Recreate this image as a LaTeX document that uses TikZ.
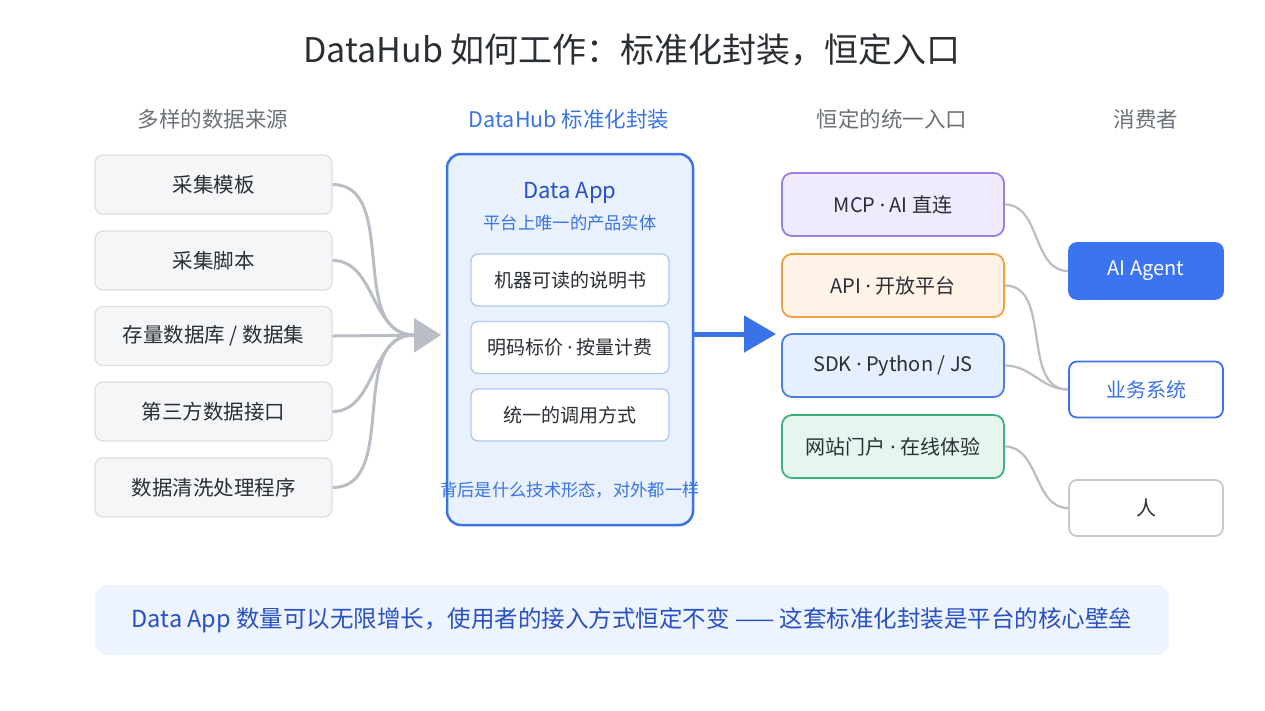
\documentclass[tikz,border=0pt]{standalone}
\usepackage{fontspec}
\setmainfont{Noto Sans CJK SC}
\newfontfamily\latinfont{Noto Sans}
\newcommand\mdot{{\latinfont ·}}
\usetikzlibrary{arrows.meta}

\definecolor{ink}{HTML}{2A2E35}
\definecolor{headgray}{HTML}{6B7079}
\definecolor{hubblue}{HTML}{3A73E6}
\definecolor{deepblue}{HTML}{2851C6}
\definecolor{srcfill}{HTML}{F5F6F8}
\definecolor{srcline}{HTML}{DCDFE4}
\definecolor{wire}{HTML}{B9BDC5}
\definecolor{appfill}{HTML}{E9F1FE}
\definecolor{partline}{HTML}{AFC8F2}
\definecolor{mcpfill}{HTML}{EFEAFD}
\definecolor{mcpline}{HTML}{9B7EE0}
\definecolor{apifill}{HTML}{FEF3E6}
\definecolor{apiline}{HTML}{F0A040}
\definecolor{sdkfill}{HTML}{E6EFFD}
\definecolor{sdkline}{HTML}{4A7FE0}
\definecolor{webfill}{HTML}{E5F6EE}
\definecolor{webline}{HTML}{3DB37A}
\definecolor{agentblue}{HTML}{3B73F0}
\definecolor{humanline}{HTML}{C6C9CF}
\definecolor{bannerfill}{HTML}{EEF4FE}

\begin{document}
\begin{tikzpicture}[x=1pt, y=-1pt,
    src/.style={draw=srcline, fill=srcfill, line width=1.3pt, rounded corners=8pt,
        minimum width=237pt, minimum height=59pt, inner sep=0pt,
        text=ink, font=\fontsize{20.5}{24}\selectfont},
    part/.style={draw=partline, fill=white, line width=1.3pt, rounded corners=7pt,
        minimum width=198pt, minimum height=52pt, inner sep=0pt,
        text=ink, font=\fontsize{19}{22}\selectfont},
    gate/.style={line width=1.8pt, rounded corners=10pt,
        minimum width=222pt, minimum height=63pt, inner sep=0pt,
        text=ink, font=\fontsize{20}{24}\selectfont},
    user/.style={line width=1.8pt, rounded corners=8pt,
        minimum width=154pt, minimum height=56pt, inner sep=0pt,
        font=\fontsize{20}{24}\selectfont},
    head/.style={text=headgray, font=\fontsize{21.5}{26}\selectfont},
    wirein/.style={draw=wire, line width=3pt},
    wireout/.style={draw=wire, line width=2.2pt},
]
    \useasboundingbox (0,0) rectangle (1265,710);

    % title and column heads
    \node[text=ink, font=\fontsize{34}{40}\selectfont] (title) at (632,50)
        {DataHub 如何工作：标准化封装，恒定入口};
    \node[head] (h1) at (213,119) {多样的数据来源};
    \node[head, text=hubblue] (h2) at (569,119) {DataHub 标准化封装};
    \node[head] (h3) at (892,119) {恒定的统一入口};
    \node[head] (h4) at (1146,119) {消费者};

    % sources
    \node[src] (s1) at (213.5,184.5) {采集模板};
    \node[src] (s2) at (213.5,260.5) {采集脚本};
    \node[src] (s3) at (213.5,336) {存量数据库 / 数据集};
    \node[src] (s4) at (213.5,411.5) {第三方数据接口};
    \node[src] (s5) at (213.5,487.5) {数据清洗处理程序};

    \coordinate (merge) at (414,335);
    \coordinate (tip) at (441,335);
    \draw[wirein] (s1.east) to[out=0, in=180] (merge);
    \draw[wirein] (s2.east) to[out=0, in=180] (merge);
    \draw[wirein] (s4.east) to[out=0, in=180] (merge);
    \draw[wirein] (s5.east) to[out=0, in=180] (merge);
    \draw[wirein, -{Triangle[length=27pt, width=34pt]}] (s3.east) -- (tip);

    % the data app
    \node[draw=hubblue, fill=appfill, line width=2.5pt, rounded corners=14pt,
        minimum width=246pt, minimum height=371pt] (app) at (570,339.5) {};
    \node[text=deepblue, font=\fontsize{22}{26}\selectfont] (appname) at (570,193) {Data App};
    \node[text=hubblue, font=\fontsize{17.3}{20}\selectfont] (appsub) at (570,223) {平台上唯一的产品实体};
    \node[part] (p1) at (570,280) {机器可读的说明书};
    \node[part] (p2) at (570,347.5) {明码标价 \mdot{} 按量计费};
    \node[part] (p3) at (570,415) {统一的调用方式};
    \node[text=hubblue, font=\fontsize{17.3}{20}\selectfont] (appnote) at (570,490)
        {背后是什么技术形态，对外都一样};

    \coordinate (gatein) at (776,334);
    \draw[hubblue, line width=5pt, -{Triangle[length=32pt, width=36pt]}]
        (app.east |- gatein) -- (gatein);

    % entries
    \node[gate, draw=mcpline, fill=mcpfill] (mcp) at (893,204.5) {MCP \mdot{} AI 直连};
    \node[gate, draw=apiline, fill=apifill] (api) at (893,285.5) {API \mdot{} 开放平台};
    \node[gate, draw=sdkline, fill=sdkfill] (sdk) at (893,365.5) {SDK \mdot{} Python / JS};
    \node[gate, draw=webline, fill=webfill] (web) at (893,446.5) {网站门户 \mdot{} 在线体验};

    % consumers
    \node[user, draw=agentblue, fill=agentblue, text=white] (agent) at (1146,271) {AI Agent};
    \node[user, draw=hubblue, fill=white, text=hubblue] (biz) at (1146,389.5) {业务系统};
    \node[user, draw=humanline, fill=white, text=ink] (human) at (1146,508) {人};

    \draw[wireout] (mcp.east) to[out=0, in=180] (agent.west);
    \draw[wireout] (api.east) to[out=0, in=180] (biz.west);
    \draw[wireout] (sdk.east) to[out=0, in=180] (biz.west);
    \draw[wireout] (web.east) to[out=0, in=180] (human.west);

    % bottom banner
    \node[fill=bannerfill, rounded corners=12pt, minimum width=1074pt, minimum height=70pt,
        text=deepblue, font=\fontsize{23.5}{28}\selectfont] (banner) at (632,620)
        {Data App 数量可以无限增长，使用者的接入方式恒定不变 —— 这套标准化封装是平台的核心壁垒};
\end{tikzpicture}
\end{document}
